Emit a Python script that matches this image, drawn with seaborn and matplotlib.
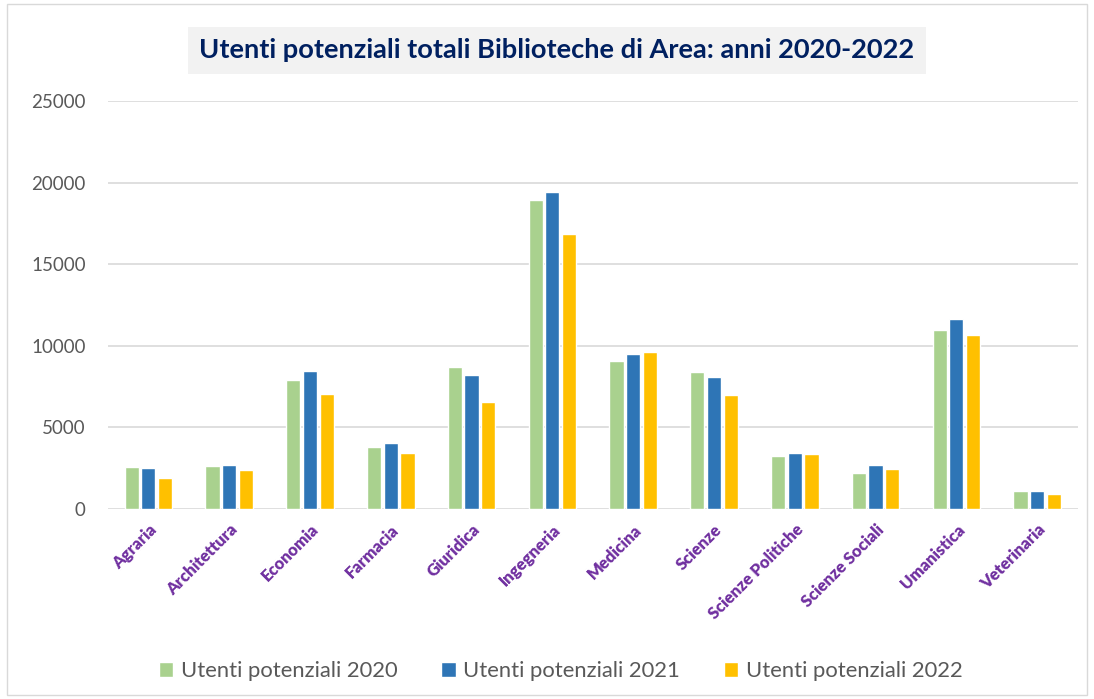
import pandas as pd
import seaborn as sns
from matplotlib import pyplot as plt
from matplotlib.patches import Rectangle

areas = ["Agraria", "Architettura", "Economia", "Farmacia", "Giuridica", "Ingegneria",
         "Medicina", "Scienze", "Scienze Politiche", "Scienze Sociali", "Umanistica", "Veterinaria"]
utenti_2020 = [2555, 2635, 7925, 3780, 8685, 18935, 9070, 8395, 3220, 2225, 10970, 1105]
utenti_2021 = [2515, 2695, 8435, 4045, 8230, 19425, 9500, 8105, 3450, 2695, 11660, 1085]
utenti_2022 = [1900, 2390, 7065, 3450, 6555, 16850, 9620, 6965, 3390, 2450, 10660, 940]
series = ["Utenti potenziali 2020", "Utenti potenziali 2021", "Utenti potenziali 2022"]
colors = ["#A9D18E", "#2E75B6", "#FFC000"]


def build_data():
    df = pd.DataFrame({"Area": areas,
                       series[0]: utenti_2020,
                       series[1]: utenti_2021,
                       series[2]: utenti_2022})
    return df.melt(id_vars="Area", var_name="Serie", value_name="Utenti")


def plot_bars(data, file_name):
    sns.set_style("white")
    plt.rcParams['font.family'] = ['Lato', 'DejaVu Sans']

    fig = plt.figure(figsize=(10.94, 6.99), dpi=100)
    ax = fig.add_axes([0.0987, 0.2718, 0.8863, 0.5837])

    sns.barplot(data=data, x="Area", y="Utenti", hue="Serie", palette=colors,
                width=0.62, gap=0.15, ax=ax, legend=True, saturation=1)

    ax.set_ylim(0, 25000)
    ax.set_yticks(range(0, 25001, 5000))
    ax.set_xlim(-0.5, len(areas) - 0.5)
    ax.yaxis.grid(True, color="#d9d9d9", linewidth=1.2)
    ax.set_axisbelow(True)
    for side in ["left", "right", "top", "bottom"]:
        ax.spines[side].set_visible(False)
    ax.set_xlabel("")
    ax.set_ylabel("")
    ax.tick_params(axis="y", length=0, pad=16, labelsize=13.5, labelcolor="#595959")
    ax.tick_params(axis="x", length=0, pad=9)
    plt.setp(ax.get_xticklabels(), rotation=45, ha="right", rotation_mode="anchor",
             color="#7030A0", fontweight="heavy", fontsize=12)

    # legend sits a bit left of the plot centre, as in the original
    ax.legend(loc="upper center", bbox_to_anchor=(0.467, -0.325), ncol=3, frameon=False,
              fontsize=15.8, labelcolor="#595959", handlelength=0.65, handleheight=0.65,
              handletextpad=0.35, columnspacing=2.0)

    fig.text(0.509, 0.928, "Utenti potenziali totali Biblioteche di Area: anni 2020-2022",
             ha="center", va="center", fontsize=19.6, fontweight="bold", color="#002060",
             bbox=dict(boxstyle="square,pad=0.42", facecolor="#F2F2F2", edgecolor="none"))

    fig.patches.append(Rectangle((0.006, 0.006), 0.988, 0.988, transform=fig.transFigure,
                                 fill=False, edgecolor="#d9d9d9", linewidth=1))

    plt.savefig(file_name, dpi=100)


def main():
    data = build_data()
    plot_bars(data, "out.png")


if __name__ == "__main__":
    main()
